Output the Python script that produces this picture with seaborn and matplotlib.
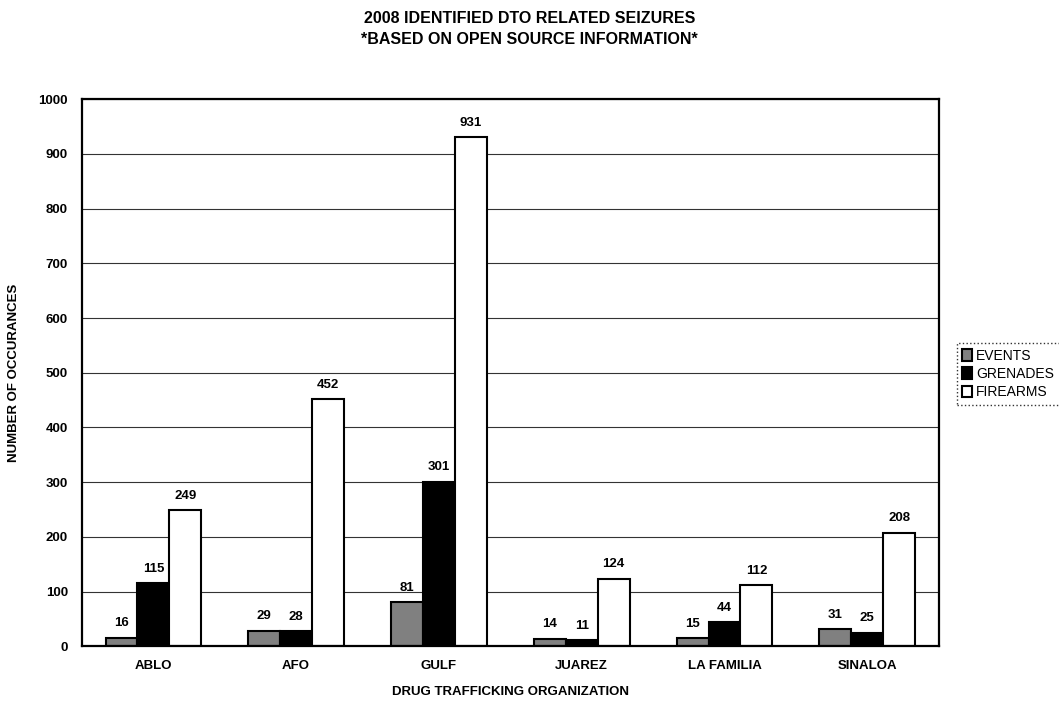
import numpy as np
import pandas as pd
import matplotlib
matplotlib.use("Agg")
import matplotlib.pyplot as plt
import seaborn as sns

# Data
organizations = ['ABLO', 'AFO', 'GULF', 'JUAREZ', 'LA FAMILIA', 'SINALOA']
events = [16, 29, 81, 14, 15, 31]
grenades = [115, 28, 301, 11, 44, 25]
firearms = [249, 452, 931, 124, 112, 208]
series_names = ['EVENTS', 'GRENADES', 'FIREARMS']
series_colors = ['#808080', '#000000', '#ffffff']

df = pd.DataFrame({
    'Organization': organizations * 3,
    'Series': np.repeat(series_names, len(organizations)),
    'Count': events + grenades + firearms,
})

sns.set_theme(style='white')
plt.rcParams['font.family'] = ['Liberation Sans', 'DejaVu Sans']
plt.rcParams['text.color'] = 'black'
plt.rcParams['axes.labelcolor'] = 'black'
plt.rcParams['xtick.color'] = 'black'
plt.rcParams['ytick.color'] = 'black'

fig = plt.figure(figsize=(10.59, 7.08), dpi=100)
ax = fig.add_axes([0.0774, 0.087, 0.809, 0.773])

sns.barplot(data=df, x='Organization', y='Count', hue='Series',
            order=organizations, hue_order=series_names,
            palette=series_colors, width=0.67, edgecolor='black',
            linewidth=1.5, ax=ax, legend=True)

for container in ax.containers:
    ax.bar_label(container, fmt='%d', padding=6, fontsize=9.5, fontweight='bold')

ax.set_ylim(0, 1000)
ax.set_yticks(range(0, 1001, 100))
ax.yaxis.grid(True, color='#333333', linewidth=0.8, linestyle='-')
ax.set_axisbelow(True)
for spine in ax.spines.values():
    spine.set_visible(True)
    spine.set_color('black')
    spine.set_linewidth(1.6)

ax.tick_params(axis='both', labelsize=9.5, length=0, pad=10)
for lbl in ax.get_xticklabels() + ax.get_yticklabels():
    lbl.set_fontweight('bold')

ax.set_xlabel('DRUG TRAFFICKING ORGANIZATION', fontsize=9.5, fontweight='bold', labelpad=10)
ax.set_ylabel('NUMBER OF OCCURANCES', fontsize=9.5, fontweight='bold')
ax.yaxis.set_label_coords(-0.072, 0.5)

fig.suptitle('2008 IDENTIFIED DTO RELATED SEIZURES\n*BASED ON OPEN SOURCE INFORMATION*',
             y=0.985, fontsize=11.5, fontweight='bold', linespacing=1.5)

leg = ax.legend(loc='upper left', bbox_to_anchor=(0.897, 0.525),
                bbox_transform=fig.transFigure, frameon=True, fontsize=10,
                handlelength=0.7, handleheight=0.9, handletextpad=0.3,
                borderpad=0.4, labelspacing=0.3, fancybox=False, title=None)
leg.get_frame().set_edgecolor('black')
leg.get_frame().set_linestyle(':')

fig.savefig('out.png', dpi=100, facecolor='white')
